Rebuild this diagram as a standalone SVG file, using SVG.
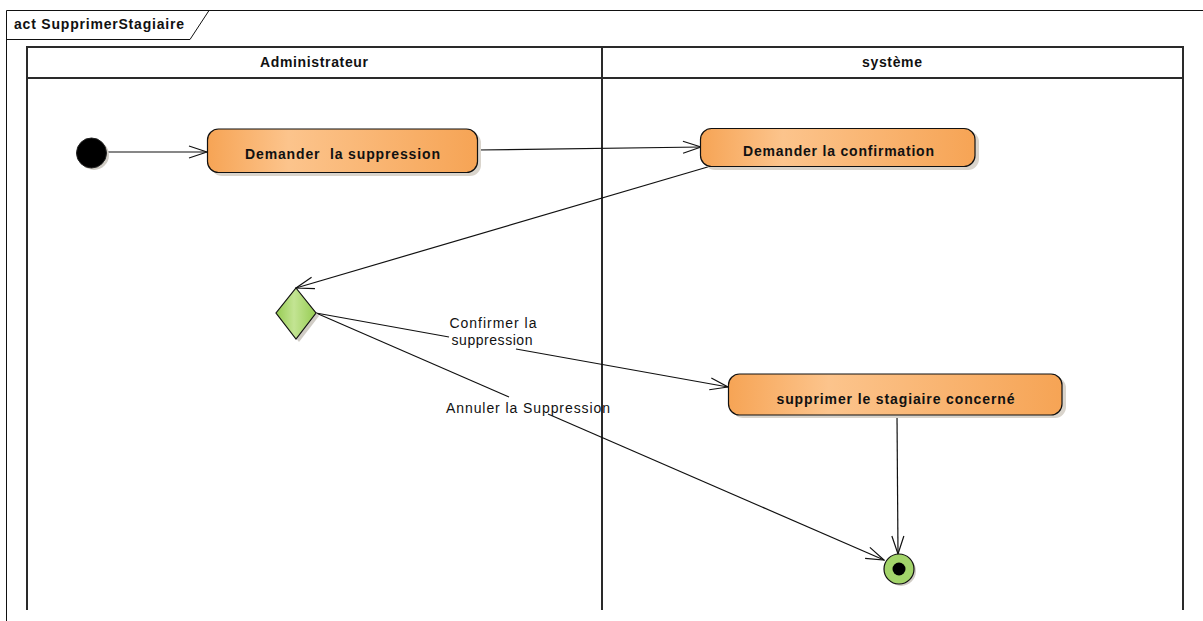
<svg xmlns="http://www.w3.org/2000/svg" width="1203" height="621" viewBox="0 0 1203 621">
<style>
.t{font-family:"Liberation Sans",Arial,sans-serif;fill:#111}
.b{font-weight:bold;font-size:14px}
.r{font-size:14px}
.lane{fill:none;stroke:#2a2a2a;stroke-width:2}
.act{fill:url(#og);stroke:#111;stroke-width:1.2}
.sh{fill:#d9d4cc}
.c{fill:none;stroke:#111;stroke-width:1.2}
</style>
<defs>
<linearGradient id="og" x1="0" y1="0" x2="1" y2="0">
<stop offset="0" stop-color="#f6a455"/>
<stop offset="0.3" stop-color="#fcc48c"/>
<stop offset="1" stop-color="#f6a455"/>
</linearGradient>
<linearGradient id="gg" x1="0" y1="0" x2="1" y2="0">
<stop offset="0" stop-color="#96cc52"/>
<stop offset="0.45" stop-color="#c3e493"/>
<stop offset="1" stop-color="#96cc52"/>
</linearGradient>
<marker id="ar" markerWidth="20" markerHeight="14" refX="19" refY="7" orient="auto" markerUnits="userSpaceOnUse">
<path d="M1,1 L19,7 L1,13" fill="none" stroke="#111" stroke-width="1.2"/>
</marker>
</defs>
<rect width="1203" height="621" fill="#fff"/>
<g id="frame">
<path d="M6.5,621 V10.5 H1203" fill="none" stroke="#111" stroke-width="1"/>
<path d="M6.5,39.5 H190 L209,10.5" fill="none" stroke="#111" stroke-width="1"/>
<text class="t b" x="14" y="29" textLength="170" lengthAdjust="spacing">act SupprimerStagiaire</text>
</g>
<g id="lanes">
<path class="lane" d="M27,610 V47 H1183 V610 M27,78 H1183 M602,47 V610"/>
<text class="t b" x="314" y="67" text-anchor="middle" textLength="108" lengthAdjust="spacing">Administrateur</text>
<text class="t b" x="892" y="67" text-anchor="middle" textLength="60" lengthAdjust="spacing">système</text>
</g>
<g id="connectors">
<line class="c" x1="107" y1="152" x2="207" y2="152" marker-end="url(#ar)"/>
<line class="c" x1="477" y1="150" x2="701" y2="147" marker-end="url(#ar)"/>
<line class="c" x1="711" y1="166" x2="296" y2="288" marker-end="url(#ar)"/>
<polyline class="c" points="316,313 449,337" />
<line class="c" x1="516" y1="349" x2="728" y2="387" marker-end="url(#ar)"/>
<line class="c" x1="316" y1="313" x2="509" y2="397"/>
<line class="c" x1="548" y1="414" x2="884" y2="560" marker-end="url(#ar)"/>
<line class="c" x1="897" y1="415" x2="898" y2="554" marker-end="url(#ar)"/>
<text class="t r" x="493" y="328" text-anchor="middle" textLength="87" lengthAdjust="spacing">Confirmer la</text>
<text class="t r" x="492" y="345" text-anchor="middle" textLength="81" lengthAdjust="spacing">suppression</text>
<text class="t r" x="528" y="413" text-anchor="middle" textLength="164" lengthAdjust="spacing">Annuler la Suppression</text>
</g>
<g id="start">
<circle cx="94" cy="155" r="15" fill="#d0ccc5"/>
<circle cx="91.5" cy="153" r="15" fill="#000" stroke="#222" stroke-width="1"/>
</g>
<g id="a1">
<rect class="sh" x="211" y="132" width="270" height="44" rx="11"/>
<rect class="act" x="207.5" y="129" width="270" height="43.5" rx="11"/>
<text class="t b" x="342.5" y="159" text-anchor="middle" textLength="195" lengthAdjust="spacing" xml:space="preserve">Demander  la suppression</text>
</g>
<g id="a2">
<rect class="sh" x="704" y="131" width="275" height="39" rx="11"/>
<rect class="act" x="700.5" y="128.5" width="274.5" height="38" rx="11"/>
<text class="t b" x="838.5" y="156" text-anchor="middle" textLength="191" lengthAdjust="spacing">Demander la confirmation</text>
</g>
<g id="a3">
<rect class="sh" x="732" y="377" width="334" height="41" rx="11"/>
<rect class="act" x="728.5" y="374" width="333.5" height="41" rx="11"/>
<text class="t b" x="895.5" y="404" text-anchor="middle" textLength="238" lengthAdjust="spacing">supprimer le stagiaire concerné</text>
</g>
<g id="decision">
<polygon points="299,291 319,316 299,342 279,316" fill="#d0ccc5"/>
<polygon points="296,288 316,313 296,339 276,313" fill="url(#gg)" stroke="#111" stroke-width="1.2"/>
</g>
<g id="end">
<circle cx="901" cy="571" r="15" fill="#d0ccc5"/>
<circle cx="899" cy="569" r="15" fill="#a3d46a" stroke="#111" stroke-width="1.2"/>
<circle cx="899" cy="569" r="6.5" fill="#000"/>
</g>
</svg>
